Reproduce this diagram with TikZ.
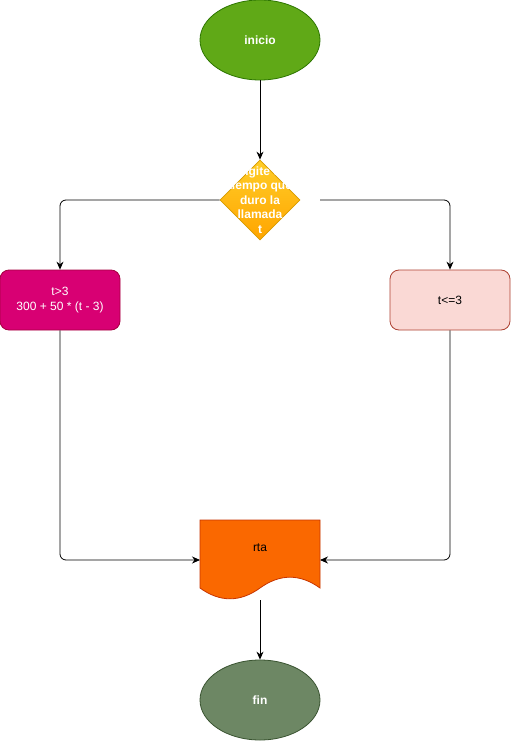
\documentclass[tikz,border=0pt]{standalone}
\usepackage{fontspec}
\setmainfont{Liberation Sans}
\usetikzlibrary{shapes.geometric,arrows.meta}
\definecolor{inifill}{HTML}{60A917}
\definecolor{inistroke}{HTML}{2D7600}
\definecolor{dtop}{HTML}{FFCD28}
\definecolor{dbot}{HTML}{FFA500}
\definecolor{dstroke}{HTML}{D79B00}
\definecolor{lfill}{HTML}{D80073}
\definecolor{lstroke}{HTML}{A50040}
\definecolor{rfill}{HTML}{FAD9D5}
\definecolor{rstroke}{HTML}{AE4132}
\definecolor{docfill}{HTML}{FA6800}
\definecolor{docstroke}{HTML}{C73500}
\definecolor{finfill}{HTML}{6D8764}
\definecolor{finstroke}{HTML}{3A5431}
\tikzset{
  txt/.style={font=\fontsize{12}{14.5}\selectfont, align=center},
  term/.style={ellipse, draw=#1, line width=0.8pt, minimum width=120pt, minimum height=80pt, inner sep=0pt, txt, text=white, font=\fontsize{12}{14.5}\selectfont\bfseries},
  procbox/.style={rectangle, rounded corners=9pt, line width=0.8pt, minimum width=120pt, minimum height=60pt, inner sep=0pt, txt},
  conn/.style={draw=black, line width=0.8pt, rounded corners=6pt, -{Stealth[length=8pt,width=7pt]}},
}
\begin{document}
\begin{tikzpicture}[x=1pt,y=-1pt]
\useasboundingbox[fill=white] (0,0) rectangle (511,741);
% start
\node[term=inistroke, fill=inifill] (ini) at (260,40) {inicio};
% diamond
\node[diamond, draw=dstroke, line width=0.8pt, top color=dtop, bottom color=dbot, minimum width=80pt, minimum height=80pt, inner sep=0pt] (dec) at (260,200) {};
\node[txt, text=white, font=\fontsize{12}{14.5}\selectfont\bfseries] (dectxt) at (260,200) {Digite el\\tiempo que\\duro la\\llamada\\t};
\coordinate (decr) at (320,200);
% boxes
\node[procbox, draw=lstroke, fill=lfill, text=white] (left) at (60,300) {t>3\\300 + 50 * (t - 3)};
\node[procbox, draw=rstroke, fill=rfill, text=black] (right) at (450,300) {t<=3};
% document
\coordinate (docc) at (260,560);
\coordinate (docl) at (200,560);
\coordinate (docr) at (320,560);
\coordinate (docb) at (260,600);
\filldraw[draw=docstroke, fill=docfill, line width=0.8pt]
  (200,520) -- (320,520) -- (320,588)
  .. controls (300,573.6) and (280,573.6) .. (260,588)
  .. controls (240,602.4) and (220,602.4) .. (200,588) -- cycle;
\node[txt, text=black] (rta) at (260,548) {rta};
% end
\node[term=finstroke, fill=finfill] (fin) at (260,700) {fin};
% connectors
\draw[conn] (ini.south) -- (dec.north);
\draw[conn] (dec.west) -| (left.north);
\draw[conn] (decr) -| (right.north);
\draw[conn] (left.south) |- (docl);
\draw[conn] (right.south) |- (docr);
\draw[conn] (docb) -- (fin.north);
\end{tikzpicture}
\end{document}
